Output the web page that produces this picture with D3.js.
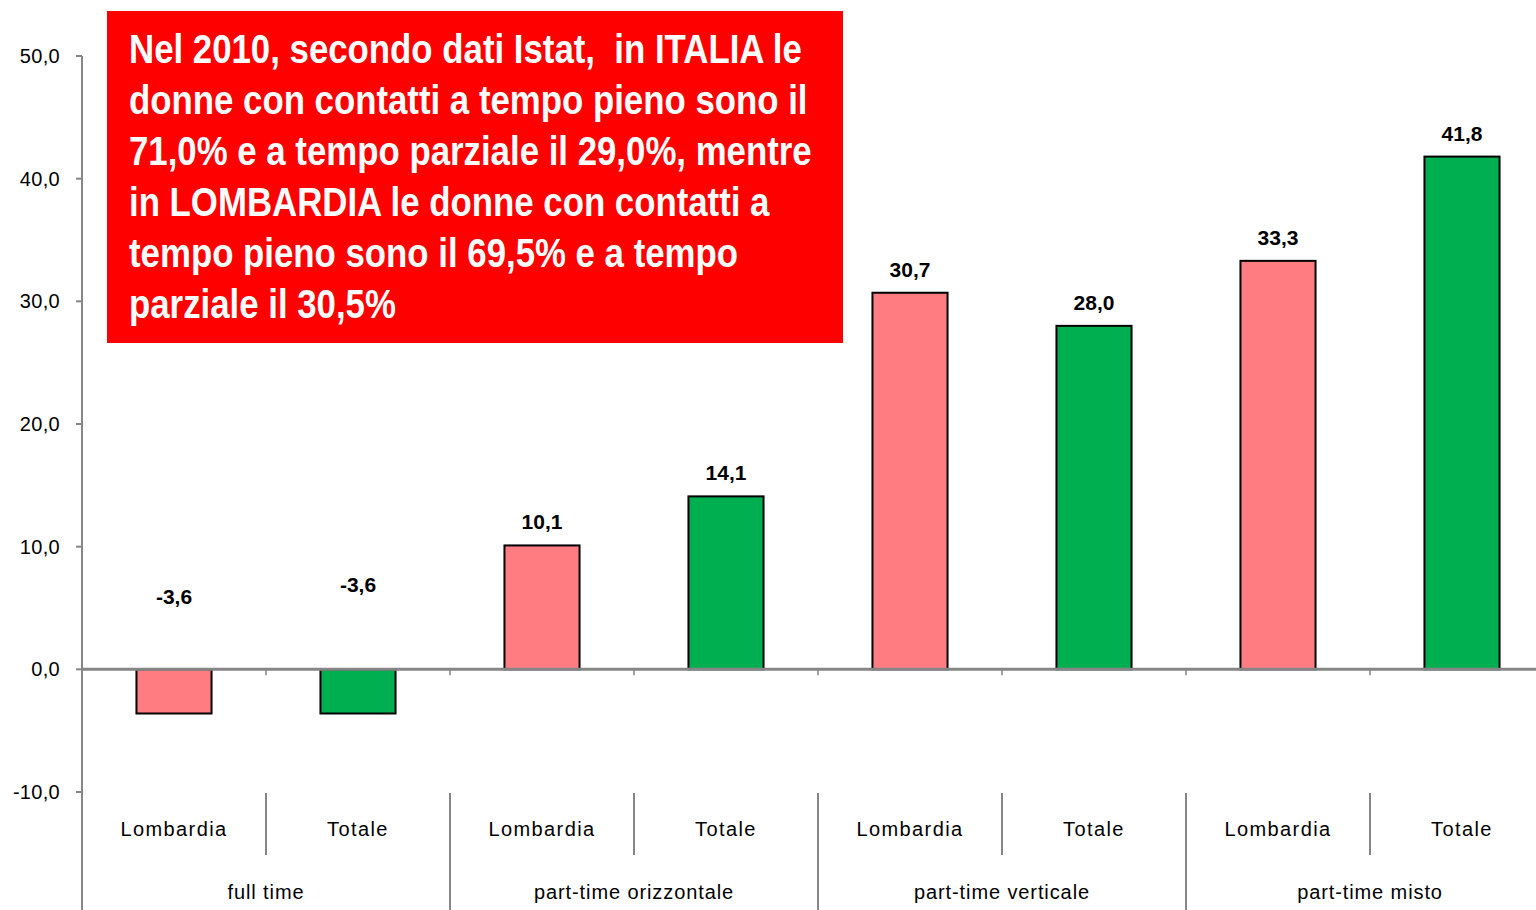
<!DOCTYPE html>
<html>
<head>
<meta charset="utf-8">
<script src="https://cdn.jsdelivr.net/npm/d3@7"></script>
<style>
  body { margin: 0; background: #fff; }
  svg { display: block; font-family: "Liberation Sans", Arial, sans-serif; }
</style>
</head>
<body>
<svg id="chart" width="1536" height="910"></svg>
<script>
// data
var groups = ["full time", "part-time orizzontale", "part-time verticale", "part-time misto"];
var subCats = ["Lombardia", "Totale"];
var values = [-3.6, -3.6, 10.1, 14.1, 30.7, 28.0, 33.3, 41.8];
var yTicks = [-10, 0, 10, 20, 30, 40, 50];
var noteLines = [
  "Nel 2010, secondo dati Istat,  in ITALIA le",
  "donne con contatti a tempo pieno sono il",
  "71,0% e a tempo parziale il 29,0%, mentre",
  "in LOMBARDIA le donne con contatti a",
  "tempo pieno sono il 69,5% e a tempo",
  "parziale il 30,5%"
];

var svg = d3.select("#chart");
var left = 82, step = 184;
var colors = ["#FF7C80", "#00B050"];
var axisColor = "#868686";
var fmt = function(v) { return d3.format(".1f")(v).replace("\u2212", "-").replace(".", ","); };

var x = d3.scaleBand()
    .domain(d3.range(values.length))
    .range([left, left + step * values.length])
    .paddingInner(0.592)
    .paddingOuter(0.296);
var y = d3.scaleLinear().domain([-10, 50]).range([792, 56]);

// y axis
svg.append("line")
    .attr("x1", left).attr("x2", left)
    .attr("y1", y(50)).attr("y2", 910)
    .attr("stroke", axisColor).attr("stroke-width", 2);

svg.selectAll(".ytick")
    .data(yTicks)
  .enter().append("line")
    .attr("x1", left - 6).attr("x2", left)
    .attr("y1", function(d) { return y(d); })
    .attr("y2", function(d) { return y(d); })
    .attr("stroke", axisColor).attr("stroke-width", 2);

svg.selectAll(".ylab")
    .data(yTicks)
  .enter().append("text")
    .attr("x", 60)
    .attr("y", function(d) { return y(d) + 7; })
    .attr("text-anchor", "end")
    .attr("font-size", 20)
    .attr("letter-spacing", 0.3)
    .attr("fill", "#000")
    .text(fmt);

// bars
svg.selectAll(".bar")
    .data(values)
  .enter().append("rect")
    .attr("x", function(d, i) { return x(i); })
    .attr("width", x.bandwidth())
    .attr("y", function(d) { return y(Math.max(d, 0)); })
    .attr("height", function(d) { return Math.abs(y(d) - y(0)); })
    .attr("fill", function(d, i) { return colors[i % 2]; })
    .attr("stroke", "#000").attr("stroke-width", 2);

// zero line + small ticks at band edges
svg.append("line")
    .attr("x1", left).attr("x2", 1536)
    .attr("y1", y(0)).attr("y2", y(0))
    .attr("stroke", axisColor).attr("stroke-width", 3);

svg.selectAll(".xtick")
    .data(d3.range(1, values.length))
  .enter().append("line")
    .attr("x1", function(i) { return left + i * step; })
    .attr("x2", function(i) { return left + i * step; })
    .attr("y1", y(0)).attr("y2", y(0) + 6)
    .attr("stroke", axisColor).attr("stroke-width", 1.5);

// value labels
svg.selectAll(".val")
    .data(values)
  .enter().append("text")
    .attr("x", function(d, i) { return x(i) + x.bandwidth() / 2; })
    .attr("y", function(d, i) {
      if (d < 0) return y(0) - (i === 0 ? 65 : 77);
      return y(d) - 16;
    })
    .attr("text-anchor", "middle")
    .attr("font-size", 21)
    .attr("font-weight", "bold")
    .attr("fill", "#000")
    .text(fmt);

// category separators
svg.selectAll(".sep")
    .data(d3.range(1, values.length))
  .enter().append("line")
    .attr("x1", function(i) { return left + i * step; })
    .attr("x2", function(i) { return left + i * step; })
    .attr("y1", 793)
    .attr("y2", function(i) { return i % 2 === 0 ? 910 : 855; })
    .attr("stroke", axisColor).attr("stroke-width", 2);

svg.selectAll(".sub")
    .data(values)
  .enter().append("text")
    .attr("x", function(d, i) { return x(i) + x.bandwidth() / 2; })
    .attr("y", 836)
    .attr("text-anchor", "middle")
    .attr("font-size", 20)
    .attr("letter-spacing", 1.4)
    .attr("fill", "#000")
    .text(function(d, i) { return subCats[i % 2]; });

svg.selectAll(".grp")
    .data(groups)
  .enter().append("text")
    .attr("x", function(d, i) { return left + (i * 2 + 1) * step; })
    .attr("y", 899)
    .attr("text-anchor", "middle")
    .attr("font-size", 20)
    .attr("letter-spacing", 0.9)
    .attr("fill", "#000")
    .text(function(d) { return d; });

// red note box
svg.append("rect")
    .attr("x", 107).attr("y", 11)
    .attr("width", 736).attr("height", 332)
    .attr("fill", "#FF0000");

var note = svg.append("g")
    .attr("transform", "translate(129,0) scale(0.87,1)");

note.selectAll(".note")
    .data(noteLines)
  .enter().append("text")
    .attr("x", 0)
    .attr("y", function(d, i) { return 63 + i * 51; })
    .attr("font-size", 40)
    .attr("font-weight", "bold")
    .attr("fill", "#fff")
    .style("white-space", "pre")
    .text(function(d) { return d; });
</script>
</body>
</html>
